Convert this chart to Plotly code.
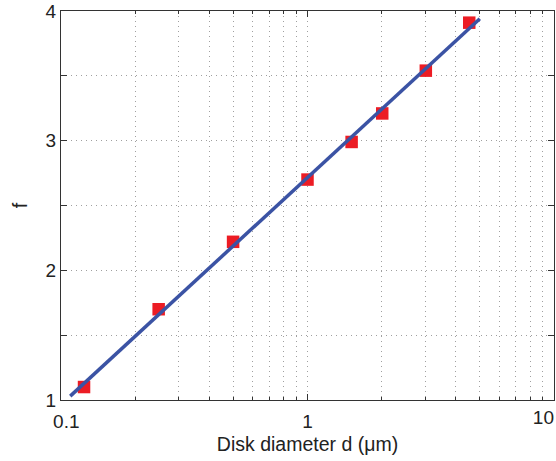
import plotly.graph_objects as go

# Data
diam = [0.124, 0.249, 0.499, 1.0, 1.51, 2.01, 3.02, 4.53]
f_vals = [1.10, 1.70, 2.22, 2.70, 2.99, 3.21, 3.54, 3.91]
fit_x = [0.109, 5.0]
fit_y = [1.03, 3.94]

x_major = [0.1, 1, 10]
x_major_text = ["\u00a0\u00a00.1", "1", ""]
x_edge_tick = [10]
x_edge_text = ["10"]
x_minor = [0.2, 0.3, 0.4, 0.5, 0.6, 0.7, 0.8, 0.9, 2, 3, 4, 5, 6, 7, 8, 9]
y_ticks = [1, 1.5, 2, 2.5, 3, 3.5, 4]
y_text = ["1", "", "2", "", "3", "", "4"]

fig = go.Figure()
fig.add_trace(go.Scatter(x=fit_x, y=fit_y, mode="lines", xaxis="x2",
                         line=dict(color="#3b53a4", width=3.5), showlegend=False))
fig.add_trace(go.Scatter(x=diam, y=f_vals, mode="markers",
                         marker=dict(symbol="square", size=12.5, color="#ec1c24",
                                     line=dict(width=0)), showlegend=False))

grid_col = "#a0a0a0"
dash = "1px,4px"
fig.update_layout(
    width=556, height=461,
    margin=dict(l=61, r=2, t=11, b=61),
    paper_bgcolor="white", plot_bgcolor="white",
    font=dict(family="Liberation Sans, Arial, sans-serif", size=19, color="#222"),
    xaxis=dict(type="log", range=[-1, 1], automargin=True,
               tickmode="array", tickvals=x_major, ticktext=x_major_text,
               ticks="inside", ticklen=6, tickcolor="#333",
               ticklabelstandoff=4,
               showline=True, linecolor="#333", linewidth=1.2, mirror="ticks",
               showgrid=True, gridcolor=grid_col, griddash=dash, gridwidth=1,
               minor=dict(tickmode="array", tickvals=x_minor, ticks="inside", ticklen=3,
                          tickcolor="#333", showgrid=True, gridcolor=grid_col,
                          griddash=dash, gridwidth=1),
               zeroline=False,
               title=dict(text="Disk diameter d (μm)", standoff=6, font=dict(size=19.5)),
               tickfont=dict(size=19)),
    xaxis2=dict(type="log", range=[-1, 1], overlaying="x", anchor="y", side="bottom",
                automargin=False, tickmode="array", tickvals=x_edge_tick,
                ticktext=x_edge_text, ticklabelposition="outside left",
                ticklabeloverflow="allow", ticklabelstandoff=4,
                ticks="", showline=False, showgrid=False, zeroline=False,
                tickfont=dict(size=19)),
    yaxis=dict(range=[1, 4], automargin=True,
               tickmode="array", tickvals=y_ticks, ticktext=y_text,
               ticks="inside", ticklen=6, tickcolor="#333",
               showline=True, linecolor="#333", linewidth=1.2, mirror="ticks",
               showgrid=True, gridcolor=grid_col, griddash=dash, gridwidth=1,
               zeroline=False,
               title=dict(text="f", standoff=12, font=dict(size=19.5)),
               tickfont=dict(size=19)),
)

fig.write_html("out.html", config={"displayModeBar": False},
               post_script="document.body.style.margin='0';")
